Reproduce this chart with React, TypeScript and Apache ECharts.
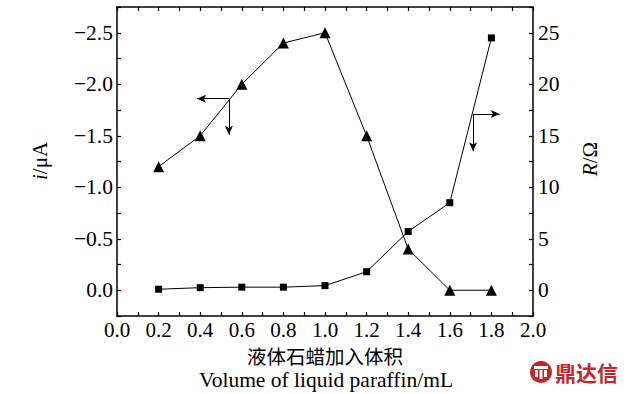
import React, { useEffect, useRef } from "react";
import * as echarts from "echarts";

const volumes = [0.2, 0.4, 0.6, 0.8, 1.0, 1.2, 1.4, 1.6, 1.8];
const currentValues = [-1.2, -1.5, -2.0, -2.4, -2.5, -1.5, -0.4, 0.0, 0.0];
const resistanceValues = [0.1, 0.25, 0.3, 0.3, 0.45, 1.8, 5.7, 8.5, 24.5];

const xTitleCn = "液体石蜡加入体积";
const xTitleEn = "Volume of liquid paraffin/mL";

const SERIF = "'Liberation Serif', 'Times New Roman', serif";

export default function App() {
  const ref = useRef<HTMLDivElement>(null);
  useEffect(() => {
    if (!ref.current) return;
    const chart = echarts.init(ref.current, undefined, { renderer: "svg" });
    const labelStyle = { color: "#000", fontFamily: SERIF, fontSize: 21 };
    const axisLine = { show: true, onZero: false, lineStyle: { color: "#000", width: 1.5 } };
    const tick = { show: true, inside: true, length: 4, lineStyle: { color: "#000", width: 1.2 } };
    const isMult = (v: number, step: number) => Math.abs(v / step - Math.round(v / step)) < 1e-6;
    const arrowLine = { color: "#000", width: 1, type: "solid" as const };
    chart.setOption({
      animation: false,
      grid: { left: 117, right: 97, top: 7, bottom: 78, containLabel: false, outerBoundsMode: "none" },
      xAxis: [
        {
          type: "value", min: 0, max: 2, interval: 0.1, position: "bottom",
          axisLine, axisTick: tick, splitLine: { show: false },
          axisLabel: { ...labelStyle, margin: 4, lineHeight: 20, showMinLabel: true, showMaxLabel: true,
            formatter: (v: number) => (isMult(v, 0.2) ? v.toFixed(1) : "") },
        },
        {
          type: "value", min: 0, max: 2, interval: 0.1, position: "top",
          axisLine, axisTick: tick, splitLine: { show: false }, axisLabel: { show: false },
        },
      ],
      yAxis: [
        {
          type: "value", min: -2.75, max: 0.25, interval: 0.25, inverse: true, position: "left",
          axisLine, axisTick: tick, splitLine: { show: false }, alignTicks: false,
          axisLabel: { ...labelStyle, fontSize: 21.5, margin: 4, showMinLabel: true, showMaxLabel: true,
            formatter: (v: number) => {
              if (!isMult(v, 0.5) || v < -2.6 || v > 0.1) return "";
              const a = Math.abs(v).toFixed(1);
              return v < -1e-9 ? "\u2212" + a : a;
            } },
        },
        {
          type: "value", min: -2.5, max: 27.5, interval: 2.5, position: "right",
          axisLine, axisTick: tick, splitLine: { show: false }, alignTicks: false,
          axisLabel: { ...labelStyle, fontSize: 21.5, margin: 5,
            formatter: (v: number) => (isMult(v, 5) && v > -1 && v < 26 ? String(Math.round(v)) : "") },
        },
      ],
      series: [
        {
          type: "line", name: "i", xAxisIndex: 0, yAxisIndex: 0,
          data: volumes.map((x, i) => [x, currentValues[i]]),
          symbol: "triangle", symbolSize: 11,
          itemStyle: { color: "#000" }, lineStyle: { color: "#000", width: 1 },
          markLine: {
            silent: true, symbol: ["none", "arrow"], symbolSize: [6, 9],
            label: { show: false }, lineStyle: arrowLine,
            data: [
              [{ coord: [0.538, -1.86] }, { coord: [0.385, -1.86] }],
              [{ coord: [0.538, -1.86] }, { coord: [0.538, -1.51] }],
            ],
          },
        },
        {
          type: "line", name: "R", xAxisIndex: 0, yAxisIndex: 1,
          data: volumes.map((x, i) => [x, resistanceValues[i]]),
          symbol: "rect", symbolSize: 7,
          itemStyle: { color: "#000" }, lineStyle: { color: "#000", width: 1 },
          markLine: {
            silent: true, symbol: ["none", "arrow"], symbolSize: [6, 9],
            label: { show: false }, lineStyle: arrowLine,
            data: [
              [{ coord: [1.712, 17.1] }, { coord: [1.84, 17.1] }],
              [{ coord: [1.712, 17.1] }, { coord: [1.712, 13.5] }],
            ],
          },
        },
      ],
      graphic: [
        {
          type: "text", x: 40, y: 161, rotation: Math.PI / 2,
          style: {
            text: "{it|i}/μA", fill: "#000", font: `21px ${SERIF}`,
            align: "center", verticalAlign: "middle",
            rich: { it: { fontStyle: "italic", fontFamily: SERIF, fontSize: 21 } },
          },
        },
        {
          type: "text", x: 590, y: 159, rotation: Math.PI / 2,
          style: {
            text: "{it|R}/Ω", fill: "#000", font: `21px ${SERIF}`,
            align: "center", verticalAlign: "middle",
            rich: { it: { fontStyle: "italic", fontFamily: SERIF, fontSize: 21 } },
          },
        },
        {
          type: "text", x: 325, y: 355,
          style: { text: xTitleCn, fill: "#000", font: `19.5px 'Noto Sans CJK SC'`, lineHeight: 19, align: "center", verticalAlign: "middle" },
        },
        {
          type: "text", x: 326, y: 379.5,
          style: { text: xTitleEn, fill: "#000", font: `21.5px ${SERIF}`, lineHeight: 20, align: "center", verticalAlign: "middle" },
        },
        {
          type: "group", x: 541, y: 372,
          children: [
            { type: "circle", shape: { cx: 0, cy: 0, r: 11 }, style: { fill: "#c4262e" } },
            { type: "rect", shape: { x: -7, y: -6, width: 14, height: 3 }, style: { fill: "#fff" } },
            { type: "rect", shape: { x: -6, y: -2, width: 3, height: 7 }, style: { fill: "#fff" } },
            { type: "rect", shape: { x: 3, y: -2, width: 3, height: 7 }, style: { fill: "#fff" } },
            { type: "rect", shape: { x: -1.5, y: -2, width: 3, height: 9 }, style: { fill: "#fff" } },
          ],
        },
        {
          type: "text", x: 555, y: 372,
          style: { text: "鼎达信", fill: "#c4262e", font: `bold 21px 'Noto Sans CJK SC'`, verticalAlign: "middle" },
        },
      ],
    });
    return () => chart.dispose();
  }, []);
  return <div ref={ref} style={{ position: "fixed", left: 0, top: 0, width: 630, height: 394, background: "#fff" }} />;
}
